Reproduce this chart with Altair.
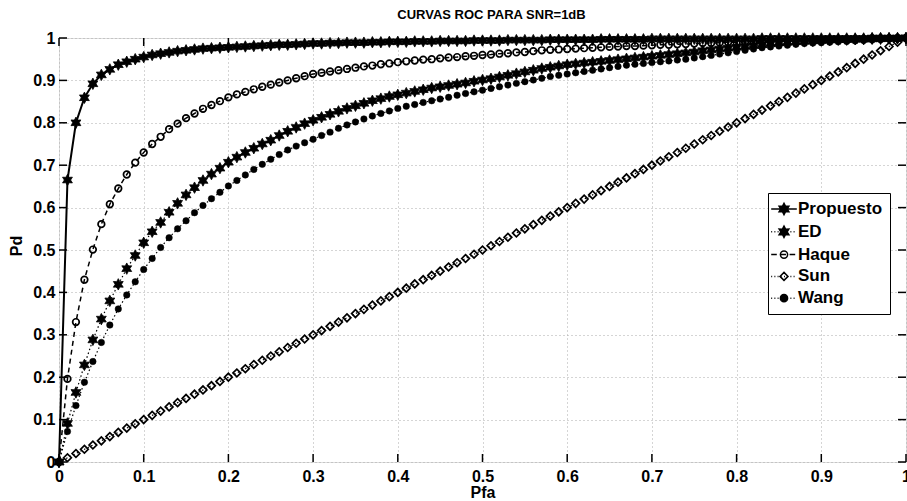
import math
import altair as alt
import pandas as pd

# ---------------- data ----------------
pfa = [
    0.00, 0.01, 0.02, 0.03, 0.04, 0.05, 0.06, 0.07, 0.08, 0.09,
    0.10, 0.11, 0.12, 0.13, 0.14, 0.15, 0.16, 0.17, 0.18, 0.19,
    0.20, 0.21, 0.22, 0.23, 0.24, 0.25, 0.26, 0.27, 0.28, 0.29,
    0.30, 0.31, 0.32, 0.33, 0.34, 0.35, 0.36, 0.37, 0.38, 0.39,
    0.40, 0.41, 0.42, 0.43, 0.44, 0.45, 0.46, 0.47, 0.48, 0.49,
    0.50, 0.51, 0.52, 0.53, 0.54, 0.55, 0.56, 0.57, 0.58, 0.59,
    0.60, 0.61, 0.62, 0.63, 0.64, 0.65, 0.66, 0.67, 0.68, 0.69,
    0.70, 0.71, 0.72, 0.73, 0.74, 0.75, 0.76, 0.77, 0.78, 0.79,
    0.80, 0.81, 0.82, 0.83, 0.84, 0.85, 0.86, 0.87, 0.88, 0.89,
    0.90, 0.91, 0.92, 0.93, 0.94, 0.95, 0.96, 0.97, 0.98, 0.99,
    1.00,
]

propuesto = [
    0.000, 0.665, 0.800, 0.859, 0.892, 0.913, 0.926, 0.937, 0.944, 0.950,
    0.955, 0.960, 0.963, 0.966, 0.969, 0.971, 0.973, 0.975, 0.976, 0.977,
    0.978, 0.979, 0.980, 0.981, 0.982, 0.983, 0.984, 0.984, 0.985, 0.986,
    0.987, 0.987, 0.988, 0.988, 0.989, 0.989, 0.989, 0.990, 0.990, 0.991,
    0.991, 0.991, 0.992, 0.992, 0.992, 0.993, 0.993, 0.993, 0.993, 0.994,
    0.994, 0.994, 0.994, 0.995, 0.995, 0.995, 0.995, 0.995, 0.996, 0.996,
    0.996, 0.996, 0.996, 0.996, 0.997, 0.997, 0.997, 0.997, 0.997, 0.997,
    0.998, 0.998, 0.998, 0.998, 0.998, 0.998, 0.998, 0.998, 0.998, 0.998,
    0.998, 0.998, 0.998, 0.999, 0.999, 0.999, 0.999, 0.999, 0.999, 0.999,
    0.999, 0.999, 0.999, 0.999, 0.999, 0.999, 1.000, 1.000, 1.000, 1.000,
    1.000,
]

ed = [
    0.000, 0.091, 0.164, 0.229, 0.288, 0.337, 0.380, 0.419, 0.456, 0.487,
    0.517, 0.543, 0.565, 0.589, 0.610, 0.630, 0.647, 0.664, 0.679, 0.693,
    0.707, 0.719, 0.730, 0.740, 0.750, 0.759, 0.770, 0.780, 0.789, 0.798,
    0.806, 0.813, 0.820, 0.827, 0.834, 0.840, 0.846, 0.852, 0.857, 0.862,
    0.866, 0.870, 0.874, 0.878, 0.882, 0.885, 0.888, 0.891, 0.894, 0.898,
    0.901, 0.904, 0.908, 0.912, 0.916, 0.920, 0.924, 0.928, 0.931, 0.934,
    0.937, 0.939, 0.941, 0.943, 0.945, 0.947, 0.949, 0.951, 0.953, 0.955,
    0.957, 0.959, 0.961, 0.963, 0.965, 0.967, 0.970, 0.972, 0.974, 0.976,
    0.978, 0.980, 0.982, 0.984, 0.987, 0.989, 0.990, 0.991, 0.992, 0.993,
    0.994, 0.995, 0.996, 0.996, 0.997, 0.997, 0.998, 0.998, 0.999, 0.999,
    1.000,
]

haque = [
    0.000, 0.196, 0.330, 0.430, 0.501, 0.561, 0.608, 0.645, 0.678, 0.706,
    0.730, 0.750, 0.767, 0.785, 0.798, 0.811, 0.822, 0.833, 0.842, 0.851,
    0.860, 0.867, 0.873, 0.879, 0.885, 0.890, 0.895, 0.900, 0.905, 0.910,
    0.915, 0.918, 0.921, 0.924, 0.927, 0.930, 0.933, 0.935, 0.938, 0.940,
    0.943, 0.945, 0.947, 0.949, 0.950, 0.952, 0.954, 0.955, 0.957, 0.958,
    0.960, 0.961, 0.963, 0.964, 0.966, 0.967, 0.969, 0.971, 0.972, 0.973,
    0.974, 0.975, 0.976, 0.977, 0.978, 0.979, 0.980, 0.981, 0.981, 0.982,
    0.983, 0.984, 0.984, 0.985, 0.986, 0.987, 0.988, 0.988, 0.989, 0.990,
    0.990, 0.991, 0.992, 0.992, 0.993, 0.994, 0.994, 0.995, 0.995, 0.996,
    0.996, 0.997, 0.997, 0.998, 0.998, 0.998, 0.999, 0.999, 0.999, 1.000,
    1.000,
]

sun = [
    0.00, 0.01, 0.02, 0.03, 0.04, 0.05, 0.06, 0.07, 0.08, 0.09,
    0.10, 0.11, 0.12, 0.13, 0.14, 0.15, 0.16, 0.17, 0.18, 0.19,
    0.20, 0.21, 0.22, 0.23, 0.24, 0.25, 0.26, 0.27, 0.28, 0.29,
    0.30, 0.31, 0.32, 0.33, 0.34, 0.35, 0.36, 0.37, 0.38, 0.39,
    0.40, 0.41, 0.42, 0.43, 0.44, 0.45, 0.46, 0.47, 0.48, 0.49,
    0.50, 0.51, 0.52, 0.53, 0.54, 0.55, 0.56, 0.57, 0.58, 0.59,
    0.60, 0.61, 0.62, 0.63, 0.64, 0.65, 0.66, 0.67, 0.68, 0.69,
    0.70, 0.71, 0.72, 0.73, 0.74, 0.75, 0.76, 0.77, 0.78, 0.79,
    0.80, 0.81, 0.82, 0.83, 0.84, 0.85, 0.86, 0.87, 0.88, 0.89,
    0.90, 0.91, 0.92, 0.93, 0.94, 0.95, 0.96, 0.97, 0.98, 0.99,
    1.00,
]

wang = [
    0.000, 0.072, 0.133, 0.188, 0.237, 0.282, 0.323, 0.361, 0.394, 0.425,
    0.454, 0.480, 0.506, 0.529, 0.550, 0.569, 0.588, 0.605, 0.621, 0.636,
    0.651, 0.664, 0.677, 0.690, 0.702, 0.714, 0.725, 0.736, 0.745, 0.753,
    0.761, 0.770, 0.778, 0.787, 0.795, 0.802, 0.809, 0.816, 0.822, 0.828,
    0.834, 0.839, 0.843, 0.848, 0.852, 0.856, 0.860, 0.865, 0.869, 0.873,
    0.877, 0.881, 0.885, 0.889, 0.893, 0.897, 0.901, 0.905, 0.909, 0.912,
    0.915, 0.918, 0.921, 0.924, 0.927, 0.930, 0.933, 0.936, 0.938, 0.940,
    0.942, 0.944, 0.946, 0.948, 0.950, 0.953, 0.956, 0.959, 0.962, 0.965,
    0.968, 0.971, 0.974, 0.977, 0.979, 0.981, 0.983, 0.985, 0.987, 0.988,
    0.989, 0.990, 0.991, 0.992, 0.993, 0.994, 0.995, 0.996, 0.997, 0.998,
    1.000,
]

series_names = ["Propuesto", "ED", "Haque", "Sun", "Wang"]
tick_values = [0.0, 0.1, 0.2, 0.3, 0.4, 0.5, 0.6, 0.7, 0.8, 0.9, 1.0]
title_text = "CURVAS ROC PARA SNR=1dB"

# ---------------- styling helpers ----------------
FONT = "Liberation Sans"
W, H = 847, 424


def hexagram(R, r):
    pts = []
    for k in range(12):
        ang = math.radians(-90 + 30 * k)
        rad = R if k % 2 == 0 else r
        pts.append((rad * math.cos(ang), rad * math.sin(ang)))
    return "M" + "L".join(f"{x:.3f},{y:.3f}" for x, y in pts) + "Z"


def circle(r):
    return f"M{r},0A{r},{r} 0 1,1 {-r},0A{r},{r} 0 1,1 {r},0Z"


def diamond(r):
    return f"M0,{-r}L{r},0L0,{r}L{-r},0Z"


def seg_line(kind, L=1.6):
    if kind == "solid":
        return f"M{-L},0H{L}"
    if kind == "dashed":
        a, dash, gap = -L, 0.7, 0.45
    else:
        a, dash, gap = -L, 0.12, 0.28
    out = ""
    while a < L:
        b = min(a + dash, L)
        out += f"M{a:.3f},0H{b:.3f}"
        a = b + gap
    return out


STAR = hexagram(1.0, 0.55)

legend_paths = [
    seg_line("solid") + hexagram(0.7, 0.385),
    seg_line("dotted") + hexagram(0.7, 0.385),
    seg_line("dashed") + circle(0.45),
    seg_line("dotted") + diamond(0.5),
    seg_line("dotted") + circle(0.45),
]
legend_fills = ["black", "black", "white", "white", "black"]
legend_strokes = ["black", "black", "black", "black", "black"]

xscale = alt.Scale(domain=[0, 1], nice=False, zero=False)
yscale = alt.Scale(domain=[0, 1], nice=False, zero=False)

xaxis = alt.Axis(
    values=tick_values, format=".1~f", title="Pfa",
    labelFont=FONT, labelFontSize=16, labelFontWeight="bold", labelColor="black",
    labelPadding=6, labelFlush=False, ticks=False, tickSize=0, domain=False,
    grid=True, gridColor="#aaaaaa", gridDash=[1, 3], gridWidth=1,
    titleFont=FONT, titleFontSize=16, titleFontWeight="bold", titleColor="black",
    titleY=35, titleBaseline="alphabetic",
)
yaxis = alt.Axis(
    values=tick_values, format=".1~f", title="Pd",
    labelFont=FONT, labelFontSize=16, labelFontWeight="bold", labelColor="black",
    labelPadding=4, labelFlush=False, ticks=False, tickSize=0, domain=False,
    grid=True, gridColor="#aaaaaa", gridDash=[1, 3], gridWidth=1,
    titleFont=FONT, titleFontSize=16, titleFontWeight="bold", titleColor="black",
    titleX=-38, titleY=207.5, titleBaseline="alphabetic", titleAlign="center",
    titleAngle=270,
)


def X(field):
    return alt.X(field, scale=xscale, axis=xaxis)


def Y(field):
    return alt.Y(field, scale=yscale, axis=yaxis)


def frame(values):
    return pd.DataFrame({"pfa": pfa, "pd": values})


layers = []

specs = [
    (propuesto, dict(strokeWidth=2), dict(shape=STAR, size=130, filled=True, fill="black", stroke="black", strokeWidth=0.8)),
    (ed, dict(strokeWidth=1.2, strokeDash=[1.5, 2.5]), dict(shape=STAR, size=130, filled=True, fill="black", stroke="black", strokeWidth=0.8)),
    (haque, dict(strokeWidth=1.5, strokeDash=[5, 4]), dict(shape="circle", size=44, filled=False, stroke="black", strokeWidth=1.7)),
    (sun, dict(strokeWidth=1.2, strokeDash=[1.5, 2.5]), dict(shape="diamond", size=60, filled=False, stroke="black", strokeWidth=1.7)),
    (wang, dict(strokeWidth=1.2, strokeDash=[1.5, 2.5]), dict(shape="circle", size=42, filled=True, fill="black", stroke="black", strokeWidth=0.5)),
]
for vals, lstyle, pstyle in specs:
    d = frame(vals)
    layers.append(alt.Chart(d).mark_line(color="black", **lstyle).encode(x=X("pfa:Q"), y=Y("pd:Q")))
    layers.append(alt.Chart(d).mark_point(opacity=1, **pstyle).encode(x=X("pfa:Q"), y=Y("pd:Q")))

# inward ticks on all four sides
tick_df = pd.DataFrame({"pfa": tick_values, "pd": tick_values})
rule = dict(color="black", strokeWidth=1.5)
layers.append(alt.Chart(tick_df).mark_rule(**rule).encode(x=X("pfa:Q"), y=alt.value(H), y2=alt.value(H - 8)))
layers.append(alt.Chart(tick_df).mark_rule(**rule).encode(x=X("pfa:Q"), y=alt.value(0), y2=alt.value(8)))
layers.append(alt.Chart(tick_df).mark_rule(**rule).encode(y=Y("pd:Q"), x=alt.value(0), x2=alt.value(8)))
layers.append(alt.Chart(tick_df).mark_rule(**rule).encode(y=Y("pd:Q"), x=alt.value(W), x2=alt.value(W - 8)))

# legend carrier (marks placed off-canvas to the left; only the legend is visible)
leg_df = pd.DataFrame({"name": series_names})
legend = alt.Legend(
    title=None, orient="none", legendX=709, legendY=155,
    strokeColor="black", fillColor="white", padding=7, cornerRadius=0,
    symbolSize=256, symbolStrokeColor="black", symbolStrokeWidth=1.5, symbolOpacity=1,
    labelFont=FONT, labelFontSize=17, labelFontWeight="bold", labelColor="black",
    labelOffset=5, rowPadding=4.8, labelLimit=300,
)
layers.append(
    alt.Chart(leg_df).mark_point(filled=True, opacity=1, strokeWidth=1.5).encode(
        x=alt.value(-400), y=alt.value(H / 2),
        shape=alt.Shape("name:N", scale=alt.Scale(domain=series_names, range=legend_paths), legend=legend),
        fill=alt.Fill("name:N", scale=alt.Scale(domain=series_names, range=legend_fills), legend=legend),
        stroke=alt.Stroke("name:N", scale=alt.Scale(domain=series_names, range=legend_strokes), legend=legend),
    )
)

chart = alt.layer(*layers).properties(
    width=W, height=H,
    autosize=alt.AutoSizeParams(type="none"),
    padding={"left": 59, "top": 38, "right": 1, "bottom": 39},
    title=alt.Title(title_text, font=FONT, fontSize=13, fontWeight="bold", color="black",
                    anchor="middle", frame="group", offset=12, baseline="alphabetic", dx=9, dy=14),
).configure_view(stroke="black", strokeWidth=1.5).configure(background="white")

chart.save("out.html", embed_options={"renderer": "svg", "actions": False})
